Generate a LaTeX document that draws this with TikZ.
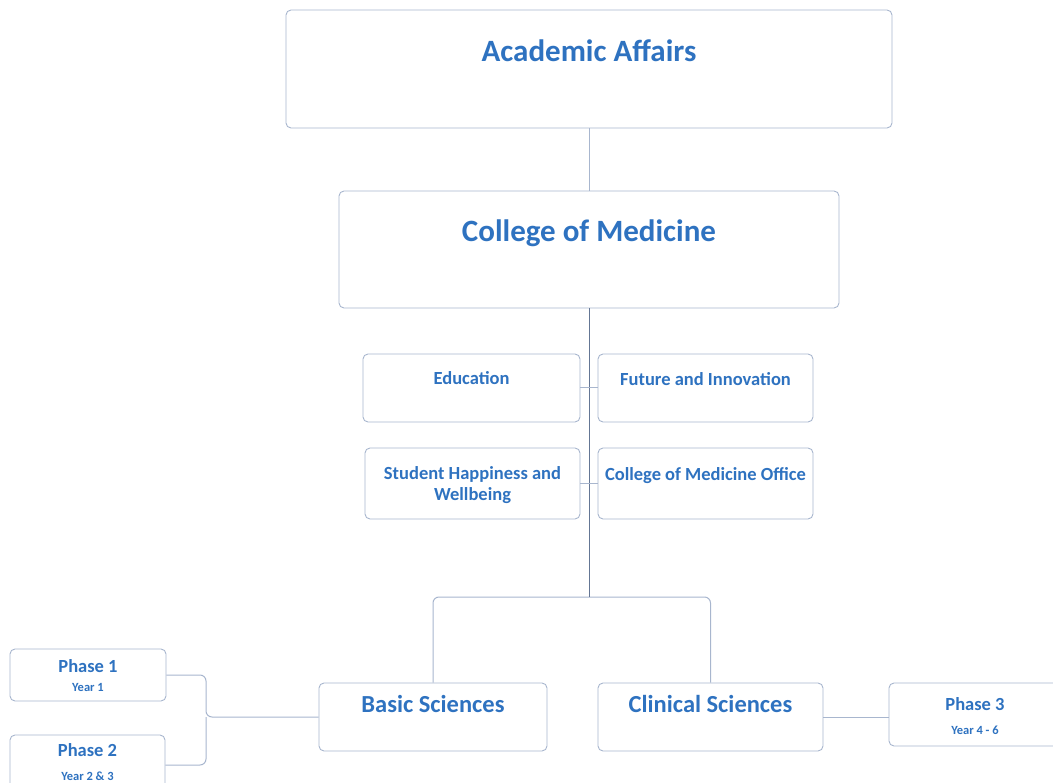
\documentclass[tikz,border=0pt]{standalone}
\usepackage{fontspec}
\setmainfont{Carlito}
\usepackage{xcolor}
\usetikzlibrary{positioning}
\definecolor{txtblue}{RGB}{46,114,192}
\definecolor{boxline}{RGB}{168,182,206}
\definecolor{trunkline}{RGB}{100,118,148}

\begin{document}
\begin{tikzpicture}[x=1pt,y=-1pt,
  box/.style={draw=boxline,line width=0.9pt,rounded corners=5pt,fill=white,inner sep=0pt},
  ttl/.style={text=txtblue,font=\bfseries,align=center,anchor=center},
  link/.style={draw=boxline,line width=1pt,rounded corners=6pt},
  trunk/.style={draw=trunkline,line width=1pt}]
\useasboundingbox (0,0) rectangle (1053,783);
\clip (0,0) rectangle (1053,783);
% top levels
\node[box,minimum width=606pt,minimum height=118pt,
  label={[ttl,font=\fontsize{31}{36}\selectfont\bfseries,yshift=-41pt]north:Academic Affairs}] (aa) at (589,69) {};
\node[box,minimum width=500pt,minimum height=117pt,
  label={[ttl,font=\fontsize{31}{36}\selectfont\bfseries,yshift=-43pt]north:College of Medicine}] (cm) at (589,249.5) {};
% offices
\node[box,minimum width=217pt,minimum height=68pt,
  label={[ttl,font=\fontsize{18.5}{22}\selectfont\bfseries,yshift=-25pt]north:Education}] (ed) at (471.5,388) {};
\node[box,minimum width=215pt,minimum height=68pt,
  label={[ttl,font=\fontsize{18.5}{22}\selectfont\bfseries,yshift=-26pt]north:Future and Innovation}] (fi) at (705.5,388) {};
\node[box,minimum width=215pt,minimum height=71pt,
  label={[ttl,font=\fontsize{18.5}{21}\selectfont\bfseries,yshift=-38pt]north:{Student Happiness and\\Wellbeing}}] (sh) at (472.5,483.5) {};
\node[box,minimum width=215pt,minimum height=71pt,
  label={[ttl,font=\fontsize{18.5}{22}\selectfont\bfseries,yshift=-28pt]north:College of Medicine Office}] (co) at (705.5,483.5) {};
% sciences
\node[box,minimum width=228pt,minimum height=68pt,
  label={[ttl,font=\fontsize{24.5}{28}\selectfont\bfseries,yshift=-21pt]north:Basic Sciences}] (bs) at (433,717) {};
\node[box,minimum width=225pt,minimum height=68pt,
  label={[ttl,font=\fontsize{24.5}{28}\selectfont\bfseries,yshift=-21pt]north:Clinical Sciences}] (cs) at (710.5,717) {};
% phases
\node[box,minimum width=156pt,minimum height=52pt,
  label={[ttl,font=\fontsize{18.5}{19}\selectfont\bfseries,yshift=-27.5pt]north:{Phase 1\\{\fontsize{12.5}{14}\selectfont Year 1}}}] (p1) at (88,675) {};
\node[box,minimum width=155pt,minimum height=56pt,
  label={[ttl,font=\fontsize{18.5}{24}\selectfont\bfseries,yshift=-28pt]north:{Phase 2\\{\fontsize{12.5}{14}\selectfont Year 2 \& 3}}}] (p2) at (87.5,763) {};
\node[box,minimum width=172pt,minimum height=63pt,
  label={[ttl,font=\fontsize{18.5}{24}\selectfont\bfseries,yshift=-34pt]north:{Phase 3\\{\fontsize{12.5}{14}\selectfont Year 4 - 6}}}] (p3) at (975,714.5) {};
% connectors
\draw[link] (aa.south) -- (cm.north);
\coordinate (split) at (589,597);
\draw[link] (split) -| (bs.north);
\draw[link] (split) -| (cs.north);
\draw[trunk] (cm.south) -- (split);
\draw[link] (ed.east) -- (fi.west);
\draw[link] (sh.east) -- (co.west);
\coordinate (ph) at (206,717);
\draw[link] (bs.west) -- (ph) |- (p1.east);
\draw[link] (ph) |- ([yshift=-2pt]p2.east);
\draw[link] (cs.east) -- (cs.east -| p3.west);
\end{tikzpicture}
\end{document}
